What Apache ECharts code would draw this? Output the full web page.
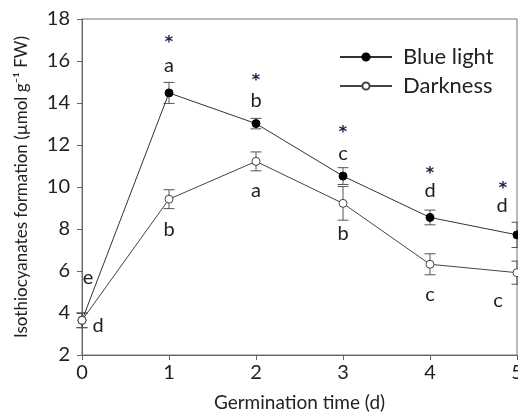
<!DOCTYPE html>
<html><head><meta charset="utf-8">
<script src="https://cdn.jsdelivr.net/npm/echarts@6/dist/echarts.min.js"></script>
<style>html,body{margin:0;padding:0;background:#fff}#c{width:518px;height:415px}</style>
</head><body><div id="c"></div>
<script>
// ---- data ----
const days = [0, 1, 2, 3, 4, 5];
const blueLight = [3.65, 14.48, 13.02, 10.52, 8.55, 7.72];
const blueErr = [0.35, 0.5, 0.25, 0.4, 0.35, 0.6];
const darkness = [3.65, 9.42, 11.22, 9.22, 6.32, 5.92];
const darkErr = [0.35, 0.45, 0.45, 0.8, 0.5, 0.55];
const blueLetters = ['e', 'a', 'b', 'c', 'd', 'd'];
const blueStars = ['', '*', '*', '*', '*', '*'];
const darkLetters = ['d', 'b', 'a', 'b', 'c', 'c'];
const yTicks = [2, 4, 6, 8, 10, 12, 14, 16, 18];
const xTicks = [0, 1, 2, 3, 4, 5];

// ---- style / layout ----
const FONT = 'Lato';
const blueLetterOff = [[6, -43], [0, -27], [0, -23], [0, -23], [0, -27], [-15, -29]];
const starOff = [[0, 0], [0, -50], [0, -43], [0, -43], [0, -44], [-14, -46]];
const darkLetterOff = [[16, 5], [0, 30], [0, 29], [0, 30], [0, 30], [-19, 28]];

const chart = echarts.init(document.getElementById('c'), null, {renderer: 'canvas'});

function errSeries(vals, errs) {
  return {
    type: 'custom', silent: true, z: 1,
    data: days.map((d, i) => [d, vals[i], errs[i]]),
    renderItem: function (params, api) {
      const x = api.value(0), y = api.value(1), e = api.value(2);
      const top = api.coord([x, y + e]);
      const bot = api.coord([x, y - e]);
      const hw = 5.5;
      const st = {stroke: '#555', lineWidth: 1};
      return {type: 'group', children: [
        {type: 'line', shape: {x1: top[0], y1: top[1], x2: bot[0], y2: bot[1]}, style: st},
        {type: 'line', shape: {x1: top[0] - hw, y1: top[1], x2: top[0] + hw, y2: top[1]}, style: st},
        {type: 'line', shape: {x1: bot[0] - hw, y1: bot[1], x2: bot[0] + hw, y2: bot[1]}, style: st}
      ]};
    }
  };
}

function textSeries(vals, texts, offs, color, font) {
  return {
    type: 'custom', silent: true, z: 5,
    data: days.map((d, i) => [d, vals[i], i]),
    renderItem: function (params, api) {
      const i = api.value(2);
      const p = api.coord([api.value(0), api.value(1)]);
      const o = offs[i];
      return {type: 'text', style: {
        text: texts[i], x: p[0] + o[0], y: p[1] + o[1],
        textAlign: 'center', textVerticalAlign: 'middle',
        font: font, fill: color
      }};
    }
  };
}

const option = {
  animation: false,
  backgroundColor: '#fff',
  grid: {left: 82, right: 1, top: 19, bottom: 60, show: true, borderColor: '#777', borderWidth: 1,
         backgroundColor: 'transparent', containLabel: false, outerBoundsMode: 'none'},
  legend: {
    orient: 'vertical', left: 334, top: 41, itemWidth: 52, itemHeight: 9, itemGap: 7,
    textStyle: {fontFamily: FONT, fontSize: 22, color: '#222', padding: [0, 0, 0, 6]},
    data: ['Blue light', 'Darkness']
  },
  xAxis: {
    type: 'value', min: 0, max: 5, interval: 1,
    name: 'Germination time (d)', nameLocation: 'middle', nameGap: 38,
    nameTextStyle: {fontFamily: FONT, fontSize: 19, color: '#222'},
    axisLine: {lineStyle: {color: '#666'}},
    axisTick: {show: true, length: 5, lineStyle: {color: '#666'}},
    axisLabel: {fontFamily: FONT, fontSize: 20, color: '#222', margin: 8, formatter: v => xTicks.includes(v) ? String(v) : ''},
    splitLine: {show: false}
  },
  yAxis: {
    type: 'value', min: 2, max: 18, interval: 2,
    name: 'Isothiocyanates formation (µmol g⁻¹ FW)', nameLocation: 'middle', nameGap: 52,
    nameTextStyle: {fontFamily: FONT, fontSize: 17, color: '#222'},
    axisLine: {lineStyle: {color: '#666'}},
    axisTick: {show: true, length: 5, lineStyle: {color: '#666'}},
    axisLabel: {fontFamily: FONT, fontSize: 20, color: '#222', margin: 12, formatter: v => yTicks.includes(v) ? String(v) : ''},
    splitLine: {show: false}
  },
  series: [
    errSeries(blueLight, blueErr),
    errSeries(darkness, darkErr),
    {
      name: 'Blue light', type: 'line', z: 3,
      data: days.map((d, i) => [d, blueLight[i]]),
      symbol: 'circle', symbolSize: 8,
      lineStyle: {color: '#333', width: 1},
      itemStyle: {color: '#000', borderColor: '#000', borderWidth: 1}
    },
    {
      name: 'Darkness', type: 'line', z: 4,
      data: days.map((d, i) => [d, darkness[i]]),
      symbol: 'circle', symbolSize: 8,
      lineStyle: {color: '#444', width: 1},
      itemStyle: {color: '#fff', borderColor: '#444', borderWidth: 1}
    },
    textSeries(blueLight, blueLetters, blueLetterOff, '#222', '20px ' + FONT),
    textSeries(blueLight, blueStars, starOff, '#1a1a40', 'bold 16px "DejaVu Sans"'),
    textSeries(darkness, darkLetters, darkLetterOff, '#222', '20px ' + FONT)
  ]
};
chart.setOption(option);
</script>
</body></html>
